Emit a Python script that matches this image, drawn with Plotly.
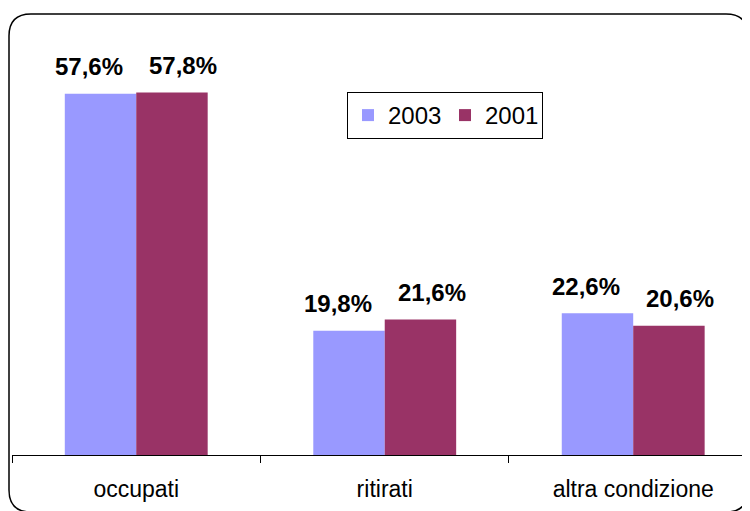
import plotly.graph_objects as go

categories = ["occupati", "ritirati", "altra condizione"]
series_names = ["2003", "2001"]
values_2003 = [57.6, 19.8, 22.6]
values_2001 = [57.8, 21.6, 20.6]
labels_2003 = ["57,6%", "19,8%", "22,6%"]
labels_2001 = ["57,8%", "21,6%", "20,6%"]

colors = ["#9999FF", "#993366"]

# the page body adds an 8px margin; figure coords = page coords - 8
OFF = 8
W, H = 750 - OFF, 511 - OFF
ML, MR, MT, MB = 12 - OFF, 0, 16 - OFF, H - (455 - OFF)
pw = W - ML - MR
ph = H - MT - MB

fig = go.Figure()
fig.add_trace(go.Bar(x=categories, y=values_2003, name=series_names[0],
                     marker=dict(color=colors[0], line=dict(width=0))))
fig.add_trace(go.Bar(x=categories, y=values_2001, name=series_names[1],
                     marker=dict(color=colors[1], line=dict(width=0))))

label_font = dict(family="Liberation Sans, Arial", size=24, color="black")
for cat, v, t in zip(categories, values_2003, labels_2003):
    fig.add_annotation(x=cat, y=v, text="<b>%s</b>" % t, showarrow=False,
                       xshift=-47, yshift=27, yanchor="middle", font=label_font)
for cat, v, t in zip(categories, values_2001, labels_2001):
    fig.add_annotation(x=cat, y=v, text="<b>%s</b>" % t, showarrow=False,
                       xshift=47, yshift=27, yanchor="middle", font=label_font)


def px(x):  # page px -> paper
    return (x - OFF - ML) / pw


def py(y):
    return (H - MB - (y - OFF)) / ph


L, T, R, B, r = 9, 14, 748, 512, 22
path = (f"M {px(L)},{py(B - r)} L {px(L)},{py(T + r)} Q {px(L)},{py(T)} {px(L + r)},{py(T)} "
        f"L {px(R - r)},{py(T)} Q {px(R)},{py(T)} {px(R)},{py(T + r)} "
        f"L {px(R)},{py(B - r)} Q {px(R)},{py(B)} {px(R - r)},{py(B)} "
        f"L {px(L + r)},{py(B)} Q {px(L)},{py(B)} {px(L)},{py(B - r)} Z")
fig.add_shape(type="path", path=path, xref="paper", yref="paper",
              line=dict(color="black", width=1.5), layer="below")

fig.update_layout(
    width=W, height=H,
    margin=dict(l=ML, r=MR, t=MT, b=MB, autoexpand=False),
    paper_bgcolor="white", plot_bgcolor="white",
    barmode="group", bargap=0.425, bargroupgap=0,
    font=dict(family="Liberation Sans, Arial", color="black"),
    showlegend=True,
    legend=dict(orientation="h", x=px(347), y=py(92), xanchor="left", yanchor="top",
                bordercolor="black", borderwidth=1, bgcolor="white",
                font=dict(size=24, family="Liberation Sans, Arial"),
                itemwidth=30, entrywidth=52, tracegroupgap=0),
    xaxis=dict(range=[-0.5, 2.47], showline=True, linecolor="black", linewidth=1,
               ticks="outside", ticklen=7, tickcolor="black", tickson="boundaries",
               tickfont=dict(size=23, family="Liberation Sans, Arial"),
               ticklabelstandoff=13, showgrid=False, zeroline=False, fixedrange=True),
    yaxis=dict(range=[0, 70], visible=False, showgrid=False, zeroline=False, fixedrange=True),
)

fig.write_html("out.html")
